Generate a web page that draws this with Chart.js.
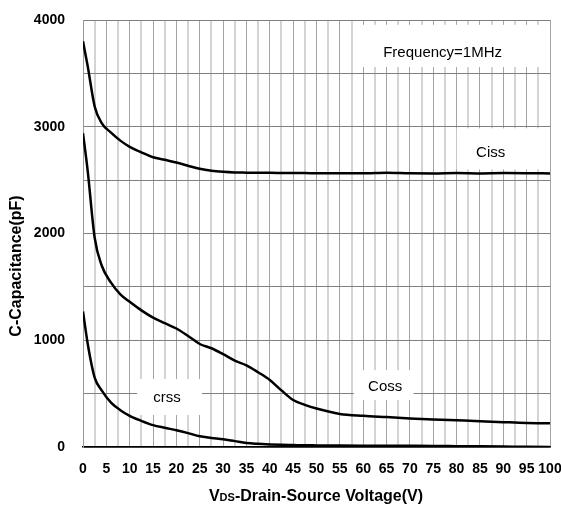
<!DOCTYPE html>
<html>
<head>
<meta charset="utf-8">
<script src="https://cdn.jsdelivr.net/npm/chart.js@4/dist/chart.umd.min.js"></script>
<style>
  html, body { margin: 0; padding: 0; background: #fff; }
  #wrap { width: 561px; height: 506px; position: relative; }
</style>
</head>
<body>
<div id="wrap"><canvas id="capChart"></canvas></div>
<script>
// ---------------- DATA ----------------
const voltage = [0, 1, 2.5, 4, 6, 8, 10, 12.5, 15, 17.5, 20, 22.5, 25, 27.5, 30, 32.5, 35, 37.5,
                 40, 42.5, 45, 47.5, 50, 55, 60, 65, 70, 75, 80, 85, 90, 95, 100];

const ciss = [3800, 3570, 3190, 3035, 2945, 2870, 2812, 2760, 2714, 2690, 2665, 2635, 2606, 2588, 2578, 2572, 2570, 2568,
              2568, 2567, 2566, 2566, 2565, 2565, 2564, 2570, 2564, 2562, 2566, 2563, 2566, 2565, 2563];

const coss = [2940, 2590, 1960, 1700, 1540, 1430, 1360, 1280, 1212, 1160, 1110, 1040, 965, 925, 870, 810, 765, 700,
              628, 530, 440, 395, 360, 310, 292, 280, 268, 258, 250, 242, 233, 225, 222];

const crss = [1270, 970, 650, 530, 415, 345, 292, 245, 205, 180, 157, 130, 100, 85, 72, 55, 38, 30,
              24, 20, 18, 16, 15, 13, 12, 12, 11, 10, 8, 6, 4, 2, 0];

const yTicks = [0, 1000, 2000, 3000, 4000];
const xTicks = [0, 5, 10, 15, 20, 25, 30, 35, 40, 45, 50, 55, 60, 65, 70, 75, 80, 85, 90, 95, 100];

// text boxes: [text, x1, x2, yTop, yBottom, textX, textY]
const labelBoxes = [
    ["Frequency=1MHz", 58, 100, 3955, 3560, 77, 3695],
    ["Ciss", 80, 100, 2985, 2600, 87.3, 2752],
    ["Coss", 58, 71, 720, 440, 64.7, 565],
    ["crss", 11.6, 25.7, 637, 300, 18, 462]
];

function toPoints(ys) {
    return voltage.map((v, i) => ({ x: v, y: ys[i] }));
}

// ---------------- DRAW HELPERS ----------------
const annotations = {
    id: "annotations",
    beforeDatasetsDraw(chart) {
        const ctx = chart.ctx;
        const xs = chart.scales.x, ys = chart.scales.y;
        ctx.save();
        labelBoxes.forEach(b => {
            const x1 = xs.getPixelForValue(b[1]), x2 = xs.getPixelForValue(b[2]);
            const y1 = ys.getPixelForValue(b[3]), y2 = ys.getPixelForValue(b[4]);
            ctx.fillStyle = "#fff";
            ctx.fillRect(x1, y1, x2 - x1 - 1, y2 - y1);
            ctx.fillStyle = "#000";
            ctx.font = "15px 'Liberation Sans', Arial, sans-serif";
            ctx.textAlign = "center";
            ctx.textBaseline = "middle";
            ctx.fillText(b[0], xs.getPixelForValue(b[5]), ys.getPixelForValue(b[6]));
        });
        ctx.restore();
    },
    afterDraw(chart) {
        const ctx = chart.ctx;
        ctx.save();
        ctx.fillStyle = "#000";
        ctx.textBaseline = "middle";

        // y title
        ctx.translate(17, 266);
        ctx.rotate(-Math.PI / 2);
        ctx.textAlign = "center";
        ctx.font = "bold 16px 'Liberation Sans', Arial, sans-serif";
        ctx.fillText("C-Capacitance(pF)", 0, 0);
        ctx.setTransform(1, 0, 0, 1, 0, 0);

        // x title with small "DS"
        const big = "bold 16px 'Liberation Sans', Arial, sans-serif";
        const small = "bold 11px 'Liberation Sans', Arial, sans-serif";
        const parts = [["V", big], ["DS", small], ["-Drain-Source Voltage(V)", big]];
        let total = 0;
        parts.forEach(p => { ctx.font = p[1]; total += ctx.measureText(p[0]).width; });
        let x = 316 - total / 2;
        ctx.textAlign = "left";
        ctx.textBaseline = "alphabetic";
        parts.forEach(p => {
            ctx.font = p[1];
            ctx.fillText(p[0], x, 501);
            x += ctx.measureText(p[0]).width;
        });
        ctx.restore();
    }
};

// ---------------- CHART ----------------
const seriesStyle = {
    borderColor: "#000",
    borderWidth: 2.5,
    pointRadius: 0,
    fill: false,
    cubicInterpolationMode: "monotone"
};

const isMajor = c => c.tick && c.tick.value % 5 === 0;

new Chart(document.getElementById("capChart"), {
    type: "line",
    data: {
        datasets: [
            Object.assign({ label: "Ciss", data: toPoints(ciss) }, seriesStyle),
            Object.assign({ label: "Coss", data: toPoints(coss) }, seriesStyle),
            Object.assign({ label: "Crss", data: toPoints(crss) }, seriesStyle)
        ]
    },
    options: {
        responsive: true,
        maintainAspectRatio: false,
        animation: false,
        layout: { padding: { left: 0, top: 20, right: 11, bottom: 0 } },
        plugins: {
            legend: { display: false },
            tooltip: { enabled: false }
        },
        scales: {
            x: {
                type: "linear",
                min: 0,
                max: 100,
                afterFit(scale) {
                    scale.height = 59;
                    scale.paddingLeft = 0;
                    scale.paddingRight = 0;
                },
                afterBuildTicks(scale) {
                    const t = [];
                    for (let v = 0; v <= 100; v += 2.5) t.push({ value: v });
                    scale.ticks = t;
                },
                grid: {
                    drawTicks: false,
                    color: c => isMajor(c) ? "#a4a4a4" : "#d4d4d4",
                    lineWidth: c => isMajor(c) ? 1 : 2
                },
                border: { color: "#000", width: 1.5 },
                ticks: {
                    autoSkip: false,
                    maxRotation: 0,
                    padding: 14,
                    color: "#000",
                    font: { family: "'Liberation Sans', Arial, sans-serif", size: 14, weight: "bold" },
                    callback: v => xTicks.includes(v) ? String(v) : ""
                }
            },
            y: {
                min: 0,
                max: 4000,
                afterFit(scale) {
                    scale.width = 83;
                    scale.paddingTop = 0;
                    scale.paddingBottom = 0;
                },
                ticks: {
                    stepSize: 500,
                    padding: 18,
                    color: "#000",
                    font: { family: "'Liberation Sans', Arial, sans-serif", size: 14, weight: "bold" },
                    callback: v => yTicks.includes(v) ? String(v) : ""
                },
                grid: { drawTicks: false, color: "#808080", lineWidth: 1 },
                border: { color: "#999", width: 1 }
            }
        }
    },
    plugins: [annotations]
});
</script>
</body>
</html>
